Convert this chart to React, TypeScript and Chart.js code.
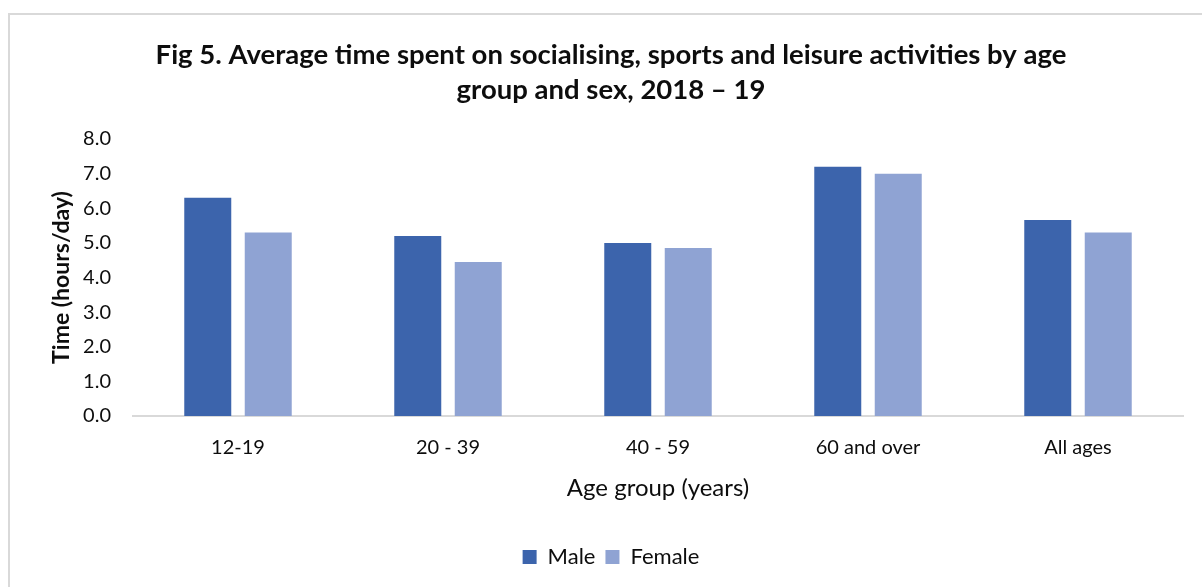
import React, { useEffect, useRef } from "react";
import { Chart, registerables } from "chart.js";

Chart.register(...registerables);

const categories = ["12-19", "20 - 39", "40 - 59", "60 and over", "All ages"];
const maleValues = [6.3, 5.2, 5.0, 7.2, 5.66];
const femaleValues = [5.3, 4.45, 4.85, 7.0, 5.3];
const yTicks = [0, 1, 2, 3, 4, 5, 6, 7, 8];
const titleLines = [
  "Fig 5. Average time spent on socialising, sports and leisure activities by age",
  "group and sex, 2018 \u2013 19",
];

const FONT = "Lato, 'Open Sans', sans-serif";

export default function App() {
  const ref = useRef<HTMLCanvasElement | null>(null);

  useEffect(() => {
    if (!ref.current) return;
    const chart = new Chart(ref.current, {
      type: "bar",
      data: {
        labels: categories,
        datasets: [
          {
            label: "Male",
            data: maleValues,
            backgroundColor: "#3C64AC",
            categoryPercentage: 0.576,
            barPercentage: 0.777,
          },
          {
            label: "Female",
            data: femaleValues,
            backgroundColor: "#8FA3D3",
            categoryPercentage: 0.576,
            barPercentage: 0.777,
          },
        ],
      },
      options: {
        responsive: false,
        maintainAspectRatio: false,
        animation: false,
        devicePixelRatio: 1,
        layout: { padding: { left: 29, right: 29, top: 0, bottom: 17 } },
        plugins: {
          title: {
            display: true,
            text: titleLines,
            color: "#0d0d0d",
            font: { family: FONT, size: 27.5, weight: "bold", lineHeight: 35 / 27.5 },
            padding: { top: 22.5, bottom: 31.5 },
          },
          legend: {
            position: "bottom",
            labels: {
              boxWidth: 14,
              boxHeight: 14,
              color: "#0d0d0d",
              font: { family: FONT, size: 22 },
              padding: 10,
            },
          },
          tooltip: { enabled: false },
        },
        scales: {
          x: {
            grid: { display: false, drawTicks: false },
            border: { display: true, color: "#d9d9d9", width: 2 },
            ticks: {
              color: "#0d0d0d",
              font: { family: FONT, size: 20 },
              padding: 20,
            },
            title: {
              display: true,
              text: "Age group (years)",
              color: "#0d0d0d",
              font: { family: FONT, size: 24 },
              padding: { top: 0, bottom: 33 },
            },
            afterFit: (scale: any) => {
              scale.height = 120;
            },
          },
          y: {
            min: 0,
            max: 8,
            afterBuildTicks: (scale: any) => {
              scale.ticks = yTicks.map((v) => ({ value: v }));
            },
            grid: { display: false, drawTicks: false },
            border: { display: false },
            ticks: {
              color: "#0d0d0d",
              font: { family: FONT, size: 20 },
              padding: 22,
              callback: (v: any) => Number(v).toFixed(1),
            },
            title: {
              display: true,
              text: "Time (hours/day)",
              color: "#0d0d0d",
              font: { family: FONT, size: 23, weight: "bold" },
              padding: { top: 9, bottom: 0 },
            },
            afterFit: (scale: any) => {
              scale.width = 94;
            },
          },
        },
      },
    });
    return () => chart.destroy();
  }, []);

  return (
    <div
      style={{
        position: "fixed",
        left: 8,
        top: 13,
        width: 1202,
        height: 580,
        border: "2px solid #d9d9d9",
        background: "#fff",
      }}
    >
      <canvas ref={ref} width={1202} height={580} style={{ display: "block" }} />
    </div>
  );
}
